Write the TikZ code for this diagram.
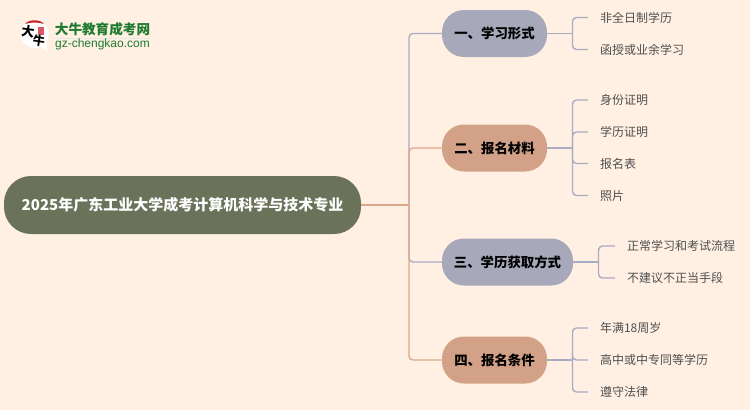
\documentclass[tikz,border=0pt]{standalone}
\usepackage{fontspec}
\setmainfont{Noto Sans CJK SC}
\newfontfamily\logolatin{Liberation Sans}
\definecolor{paper}{HTML}{FFF0E3}
\definecolor{rootfill}{HTML}{6A7259}
\definecolor{greyfill}{HTML}{A7A8B9}
\definecolor{tanfill}{HTML}{D2A187}
\definecolor{greyline}{HTML}{A9ACC2}
\definecolor{tanline}{HTML}{DBA98C}
\definecolor{leaftext}{HTML}{4F4F4F}
\definecolor{logogreen}{HTML}{1E7B2E}
\definecolor{logored}{HTML}{C9252B}
\begin{document}
\begin{tikzpicture}
[x=1pt,y=-1pt,
  rootdecorate/.style={shape=rectangle,rounded corners=27pt,fill=rootfill,text=white,font=\fontsize{15}{18}\selectfont\bfseries,minimum height=58pt,minimum width=357pt,inner sep=0pt},%
  branchdecorate/.style={shape=rectangle,rounded corners=22pt,text=black,font=\fontsize{13.4}{16}\selectfont\bfseries,minimum height=47pt,inner sep=0pt},%
  leafdecorate/.style={anchor=west,text=leaftext,font=\fontsize{12}{14}\selectfont,inner xsep=12pt,inner ysep=0pt,outer sep=0pt},%
  linedecorate/.style={-,line width=1.4pt,rounded corners=4pt}]
\fill[paper] (0,0) rectangle (750,410);
\useasboundingbox (0,0) rectangle (750,410);
%% logo
\fill[white] (34.5,34) circle (14pt);
\fill[white] (38,44) -- (47.5,52) -- (46,40) -- cycle;
\fill[logored] (25,24) .. controls (29,19) and (40,19) .. (44,24) .. controls (38,22) and (31,22) .. (25,24) -- cycle;
\fill[logored,opacity=0.75] (38,27) rectangle (44,35);
\node (logoBig) at (28,31.5) [font=\fontsize{13}{13}\selectfont\bfseries,rotate=-8,inner sep=0pt] {大};
\node (logoNiu) at (39,41) [font=\fontsize{12}{12}\selectfont\bfseries,rotate=-8,inner sep=0pt] {牛};
\node (logoName) at (102.5,29.5) [text=logogreen,font=\fontsize{13.6}{14}\selectfont\bfseries,inner sep=0pt] {大牛教育成考网};
\draw[logogreen!15] (55,38.5) -- (150,38.5);
\node (logoSite) at (102.5,44.5) [text=logogreen,font=\logolatin\fontsize{12}{12}\selectfont,inner sep=0pt] {gz-chengkao.com};
%% root and branches
\node (root) at (182.5,205) [rootdecorate] {2025年广东工业大学成考计算机科学与技术专业};
\coordinate (hub) at (409,205);
\foreach \nodename/\y/\w/\col/\txt in {form/33.5/105/greyfill/一、学习形式, material/148/105/tanfill/二、报名材料, way/262/131/greyfill/三、学历获取方式, need/360/105/tanfill/四、报名条件} {
  \node (\nodename) at (442+\w/2,\y) [branchdecorate,fill=\col,minimum width=\w pt] {\txt};
}
%% leaves
\foreach \nodename/\x/\y/\txt in {a1/588/17.5/非全日制学历, a2/588/49.5/函授或业余学习,
  b1/588/100/身份证明, b2/588/132/学历证明, b3/588/163.5/报名表, b4/588/195.5/照片,
  c1/615/246/正常学习和考试流程, c2/615/278/不建议不正当手段,
  d1/588/328/年满18周岁, d2/588/360/高中或中专同等学历, d3/588/392/遵守法律} {
  \node (\nodename) at (\x,\y) [leafdecorate] {\txt};
}
%% edges or lines
\foreach \endnode in {form,way} {
  \draw[linedecorate,greyline] (hub) |- (\endnode.west);
}
\foreach \endnode in {material,need} {
  \draw[linedecorate,tanline] (hub) |- (\endnode.west);
}
\draw[linedecorate,tanline] (root.east) -- (hub);
\foreach \startnode/\midx/\endnode in {form/572.5/a1, form/572.5/a2, material/572.5/b1, material/572.5/b2, material/572.5/b3, material/572.5/b4, way/598.5/c1, way/598.5/c2, need/572.5/d1, need/572.5/d2, need/572.5/d3} {
  \coordinate (mid) at (\midx,0 |- \startnode.east);
  \draw[linedecorate,greyline] (\startnode.east) -- (mid);
  \draw[linedecorate,greyline] (mid) |- (\endnode.west);
}
\end{tikzpicture}
\end{document}
